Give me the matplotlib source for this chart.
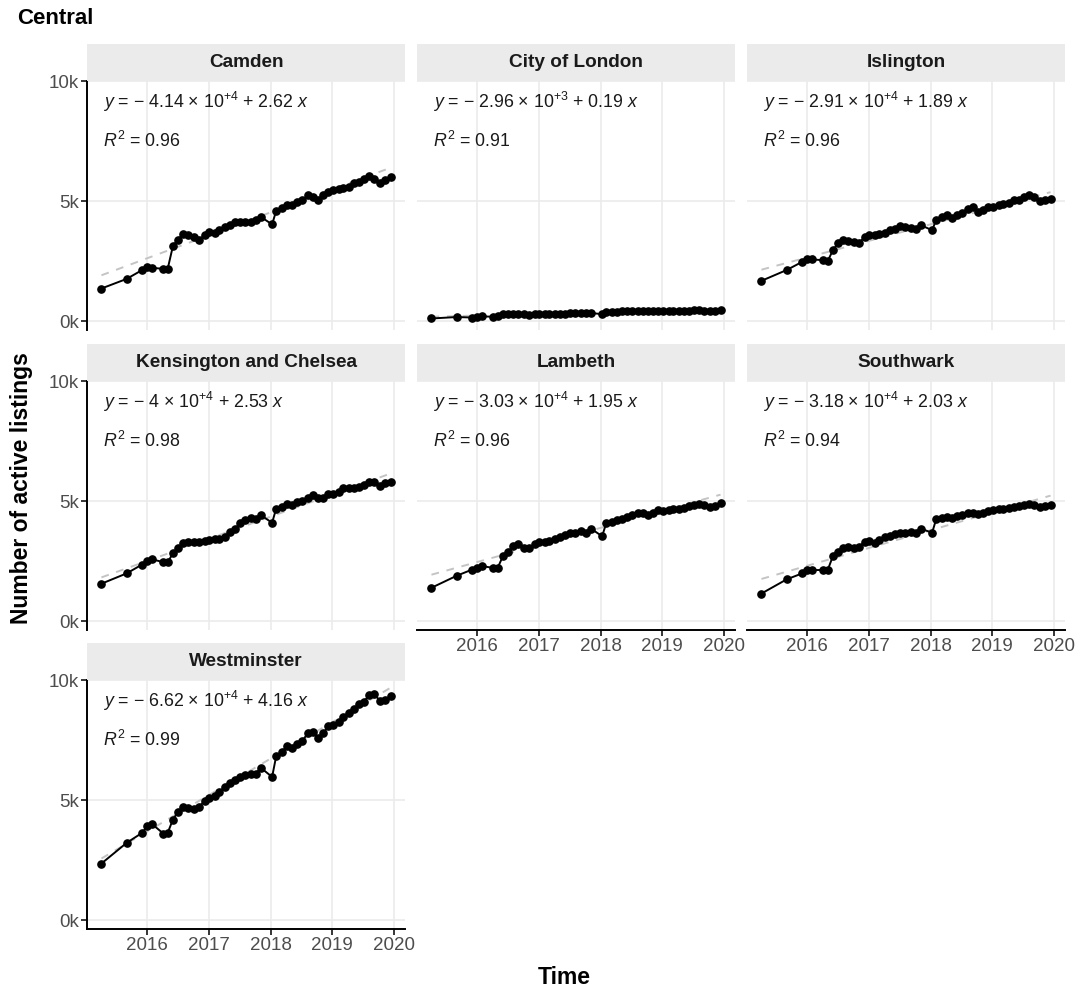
import matplotlib
matplotlib.use("Agg")
import matplotlib.pyplot as plt
import matplotlib.dates as mdates
import numpy as np
import pandas as pd

plt.rcParams["font.family"] = ["Liberation Sans", "DejaVu Sans"]
plt.rcParams["mathtext.fontset"] = "custom"
plt.rcParams["mathtext.rm"] = "Liberation Sans"
plt.rcParams["mathtext.it"] = "Liberation Sans:italic"
plt.rcParams["mathtext.bf"] = "Liberation Sans:bold"

# Scrape dates of the listings snapshots
dates = [
    "2015-04-06", "2015-09-02", "2015-12-03", "2016-01-03", "2016-02-02",
    "2016-04-06", "2016-05-02", "2016-06-02", "2016-07-02", "2016-08-02",
    "2016-09-02", "2016-10-03", "2016-11-02", "2016-12-08", "2017-01-04",
    "2017-02-08", "2017-03-04", "2017-04-04", "2017-05-04", "2017-06-04",
    "2017-07-05", "2017-08-04", "2017-09-07", "2017-10-06", "2017-11-04",
    "2018-01-10", "2018-02-03", "2018-03-07", "2018-04-08", "2018-05-08",
    "2018-06-08", "2018-07-08", "2018-08-08", "2018-09-08", "2018-10-08",
    "2018-11-08", "2018-12-08", "2019-01-08", "2019-02-08", "2019-03-08",
    "2019-04-08", "2019-05-08", "2019-06-08", "2019-07-08", "2019-08-08",
    "2019-09-08", "2019-10-08", "2019-11-08", "2019-12-12",
]

boroughs = ["Camden", "City of London", "Islington", "Kensington and Chelsea",
            "Lambeth", "Southwark", "Westminster"]

# Active listings (thousands)
camden = [1.36, 1.76, 2.13, 2.26, 2.22, 2.18, 2.18, 3.13, 3.40, 3.65,
          3.61, 3.51, 3.40, 3.58, 3.72, 3.68, 3.79, 3.93, 4.00, 4.14,
          4.14, 4.12, 4.14, 4.20, 4.35, 4.03, 4.60, 4.70, 4.83, 4.83,
          4.97, 5.04, 5.25, 5.18, 5.07, 5.25, 5.39, 5.46, 5.49, 5.53,
          5.60, 5.74, 5.80, 5.94, 6.04, 5.94, 5.76, 5.87, 6.01]
city = [0.11, 0.17, 0.15, 0.18, 0.20, 0.18, 0.23, 0.28, 0.29, 0.29,
        0.28, 0.28, 0.27, 0.28, 0.29, 0.28, 0.29, 0.30, 0.30, 0.31,
        0.32, 0.34, 0.35, 0.35, 0.34, 0.29, 0.38, 0.39, 0.40, 0.41,
        0.41, 0.42, 0.42, 0.43, 0.42, 0.42, 0.43, 0.42, 0.42, 0.42,
        0.43, 0.43, 0.44, 0.46, 0.46, 0.44, 0.43, 0.44, 0.46]
islington = [1.68, 2.13, 2.47, 2.60, 2.57, 2.54, 2.50, 2.96, 3.24, 3.40,
             3.33, 3.28, 3.26, 3.51, 3.61, 3.58, 3.63, 3.68, 3.79, 3.86,
             3.96, 3.93, 3.89, 3.82, 4.00, 3.79, 4.21, 4.35, 4.42, 4.31,
             4.42, 4.51, 4.69, 4.76, 4.56, 4.63, 4.76, 4.76, 4.83, 4.90,
             4.94, 5.04, 5.07, 5.18, 5.25, 5.18, 5.00, 5.04, 5.11]
kensington = [1.56, 1.99, 2.36, 2.50, 2.57, 2.46, 2.46, 2.82, 3.03, 3.24,
              3.28, 3.28, 3.28, 3.33, 3.38, 3.42, 3.42, 3.51, 3.72, 3.86,
              4.07, 4.20, 4.28, 4.24, 4.42, 4.10, 4.69, 4.76, 4.90, 4.83,
              4.97, 5.01, 5.15, 5.25, 5.15, 5.13, 5.29, 5.29, 5.39, 5.53,
              5.53, 5.56, 5.60, 5.67, 5.78, 5.80, 5.62, 5.74, 5.78]
lambeth = [1.39, 1.89, 2.15, 2.22, 2.29, 2.22, 2.22, 2.71, 2.89, 3.13,
           3.21, 3.03, 3.03, 3.21, 3.28, 3.28, 3.35, 3.42, 3.49, 3.58,
           3.68, 3.68, 3.76, 3.68, 3.86, 3.54, 4.07, 4.14, 4.21, 4.25,
           4.32, 4.42, 4.51, 4.49, 4.42, 4.49, 4.63, 4.60, 4.65, 4.67,
           4.67, 4.72, 4.79, 4.86, 4.90, 4.83, 4.76, 4.81, 4.92]
southwark = [1.15, 1.74, 1.99, 2.13, 2.13, 2.13, 2.13, 2.71, 2.89, 3.03,
             3.10, 3.03, 3.10, 3.31, 3.35, 3.24, 3.38, 3.49, 3.54, 3.63,
             3.68, 3.68, 3.72, 3.68, 3.86, 3.68, 4.25, 4.28, 4.35, 4.28,
             4.39, 4.42, 4.51, 4.49, 4.46, 4.51, 4.60, 4.63, 4.67, 4.69,
             4.72, 4.76, 4.81, 4.86, 4.90, 4.86, 4.74, 4.79, 4.86]
westminster = [2.36, 3.22, 3.64, 3.92, 3.99, 3.61, 3.64, 4.19, 4.51, 4.72,
               4.69, 4.65, 4.72, 4.97, 5.11, 5.17, 5.35, 5.56, 5.72, 5.86,
               5.97, 6.04, 6.11, 6.11, 6.35, 5.97, 6.83, 7.01, 7.25, 7.19,
               7.36, 7.47, 7.78, 7.85, 7.61, 7.78, 8.08, 8.13, 8.26, 8.47,
               8.64, 8.82, 9.00, 9.10, 9.40, 9.44, 9.14, 9.17, 9.34]

series = [camden, city, islington, kensington, lambeth, southwark, westminster]

# Linear fit y = a + b x (x in days since 1970-01-01)
intercepts = [-4.14e4, -2.96e3, -2.91e4, -4e4, -3.03e4, -3.18e4, -6.62e4]
slopes = [2.62, 0.19, 1.89, 2.53, 1.95, 2.03, 4.16]
r_squared = [0.96, 0.91, 0.96, 0.98, 0.96, 0.94, 0.99]

y_ticks = [0, 5000, 10000]
y_ticklabels = ["0k", "5k", "10k"]
x_years = [2016, 2017, 2018, 2019, 2020]

W, H = 1080, 992
fig = plt.figure(figsize=(W / 100, H / 100), dpi=100)
fig.patch.set_facecolor("white")


def rect(left, top, w, h):
    return [left / W, 1 - (top + h) / H, w / W, h / H]


col_left = [87, 417, 747]
row_top = [81, 381, 680]
pw, ph = 318, 249
strip_h = 37

xdates = pd.to_datetime(dates)
xnum = mdates.date2num(xdates)
xpad = 0.05 * (xnum[-1] - xnum[0])
xlim = (xnum[0] - xpad, xnum[-1] + xpad)
ylim = (-370, 10010)
year_pos = mdates.date2num(pd.to_datetime([f"{y}-01-01" for y in x_years]))

tick_color = "#4D4D4D"
grid_color = "#EBEBEB"
text_color = "#1A1A1A"

for i, name in enumerate(boroughs):
    r, c = divmod(i, 3)
    ax = fig.add_axes(rect(col_left[c], row_top[r], pw, ph))
    ax.set_xlim(*xlim)
    ax.set_ylim(*ylim)
    ax.set_facecolor("white")
    for yv in y_ticks:
        ax.axhline(yv, color=grid_color, lw=1.2, zorder=0)
    for xv in year_pos:
        ax.axvline(xv, color=grid_color, lw=1.2, zorder=0)

    vals = np.array(series[i]) * 1000
    fit_x = np.array([xnum[0], xnum[-1]])
    fit_y = intercepts[i] + slopes[i] * fit_x
    ax.plot(fit_x, fit_y, color="#C4C4C4", lw=1.4, dashes=(4, 4), zorder=2)
    ax.plot(xnum, vals, color="black", lw=1.4, marker="o", ms=5.2, zorder=3)

    a = intercepts[i]
    exp = int(np.floor(np.log10(abs(a))))
    mant = abs(a) / 10 ** exp
    eq = (r"$\mathit{y}$ = $-$ " + f"{mant:g}" + r" $\times$ 10$^{+" + str(exp) +
          r"}$ + " + f"{slopes[i]:.2f}" + r" $\mathit{x}$")
    ax.text(16 / pw, 1 - 21 / ph, eq, transform=ax.transAxes, ha="left",
            va="center", fontsize=12.8, color=text_color)
    ax.text(16 / pw, 1 - 60 / ph, r"$\mathit{R}^2$ = " + f"{r_squared[i]:.2f}",
            transform=ax.transAxes, ha="left", va="center", fontsize=12.8,
            color=text_color)

    for s in ax.spines.values():
        s.set_visible(False)
    show_left = c == 0
    show_bottom = (i + 3) >= len(boroughs)
    ax.set_yticks(y_ticks)
    ax.set_xticks(year_pos)
    if show_left:
        ax.spines["left"].set_visible(True)
        ax.spines["left"].set_linewidth(1.4)
        ax.set_yticklabels(y_ticklabels)
        ax.tick_params(axis="y", length=4, width=1.1, color="black",
                       labelsize=13.5, labelcolor=tick_color, pad=2)
    else:
        ax.tick_params(axis="y", length=0, labelleft=False)
    if show_bottom:
        ax.spines["bottom"].set_visible(True)
        ax.spines["bottom"].set_linewidth(1.4)
        ax.set_xticklabels([str(y) for y in x_years])
        ax.tick_params(axis="x", length=4, width=1.1, color="black",
                       labelsize=13.5, labelcolor=tick_color, pad=2)
    else:
        ax.tick_params(axis="x", length=0, labelbottom=False)

    sax = fig.add_axes(rect(col_left[c], row_top[r] - strip_h, pw, strip_h))
    sax.set_facecolor("#EBEBEB")
    sax.set_xticks([])
    sax.set_yticks([])
    for s in sax.spines.values():
        s.set_visible(False)
    sax.text(0.5, 0.5, name, ha="center", va="center", fontsize=13.7,
             fontweight="bold", color=text_color, transform=sax.transAxes)

fig.text(17 / W, 1 - 19 / H, "Central", ha="left", va="center",
         fontsize=16, fontweight="bold", color="black")
fig.text(22 / W, 1 - 488 / H, "Number of active listings", ha="center",
         va="center", rotation=90, fontsize=16.5, fontweight="bold")
fig.text(564 / W, 1 - 978 / H, "Time", ha="center", va="center",
         fontsize=16.5, fontweight="bold")

fig.savefig("out.png", dpi=100, facecolor="white")
